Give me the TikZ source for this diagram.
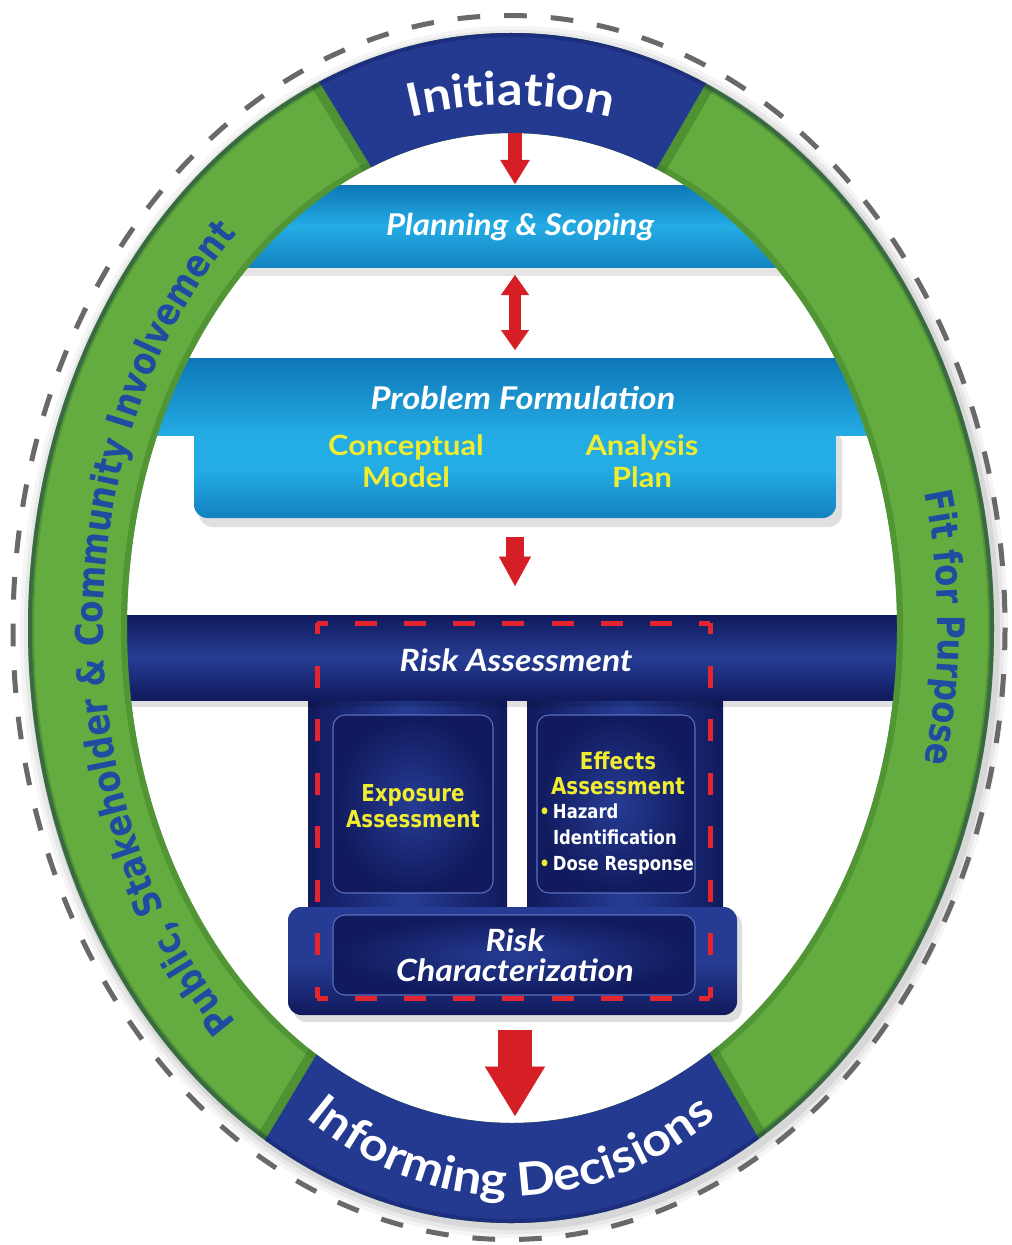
\documentclass[tikz,border=0pt]{standalone}
\usepackage{fontspec}
\setmainfont{Lato}
\newfontfamily\gill[FakeStretch=1.1]{Lato}
\newfontfamily\tah[FakeStretch=0.85]{DejaVu Sans}
\usetikzlibrary{arrows.meta,decorations.text,calc}
\definecolor{ringgreen}{RGB}{100,172,64}
\definecolor{ringgreendk}{RGB}{58,122,40}
\definecolor{navy}{RGB}{38,60,148}
\definecolor{navydk}{RGB}{16,26,92}
\definecolor{segblue}{RGB}{36,58,145}
\definecolor{lblue}{RGB}{36,172,228}
\definecolor{lbluedk}{RGB}{14,118,182}
\definecolor{arrowred}{RGB}{214,30,38}
\definecolor{txtyellow}{RGB}{240,236,48}
\definecolor{ringtext}{RGB}{30,76,160}
\definecolor{dashgrey}{RGB}{105,105,105}
\definecolor{dashred}{RGB}{228,36,46}
\definecolor{boxedge}{RGB}{90,110,190}
\tikzset{
  italtitle/.style={text=white, inner sep=0pt, align=center, font=\gill\bfseries\itshape\fontsize{23}{22.5}\selectfont},
  ylwtitle/.style={text=txtyellow, inner sep=0pt, align=center, font=\gill\bfseries\fontsize{21}{24}\selectfont},
  tahyellow/.style={text=txtyellow, inner sep=0pt, align=center, font=\tah\bfseries\fontsize{17.5}{19}\selectfont},
  tahwhite/.style={text=white, inner sep=0pt, align=left, font=\tah\bfseries\fontsize{14.5}{19.5}\selectfont},
  arrowsmall/.style={draw=arrowred, line width=11pt, -{Triangle[width=22pt 0 0, length=18pt 0 0, line width=0.2pt]}},
  arrowdouble/.style={draw=arrowred, line width=9.5pt, {Triangle[width=21pt 0 0,length=15pt 0 0,line width=0.2pt]}-{Triangle[width=21pt 0 0,length=15pt 0 0,line width=0.2pt]}},
  arrowmid/.style={draw=arrowred, line width=13.5pt, -{Triangle[width=24pt 0 0,length=22pt 0 0,line width=0.2pt]}},
  arrowbig/.style={draw=arrowred, line width=25pt, -{Triangle[width=45pt 0 0,length=37pt 0 0,line width=0.2pt]}},
  redside/.style={draw=dashred, line width=3.75pt, dash pattern=on 16.5pt off #1, dash phase=8.25pt},
  innerbox/.style={inner color=navy, outer color=navydk, draw=boxedge, line width=0.8pt, rounded corners=9pt},
}
\begin{document}
\begin{tikzpicture}[x=0.75pt,y=-0.75pt]
\useasboundingbox (0,0) rectangle (1011,1245);
\fill[white] (0,0) rectangle (1011,1245);
% soft halo of the ring
\foreach \r/\o in {11/0.04,7/0.05,3/0.07}{
  \fill[black,opacity=\o] (514,632) ellipse [x radius=483+\r, y radius=595+\r];
}
\fill[white] (512,628) ellipse [x radius=385, y radius=495];
% grey dashed ellipse
\draw[dashgrey, line width=3.75pt, dash pattern=on 17pt off 18pt] (509,627.5) ellipse [x radius=496, y radius=612];

% ---------- bands inside the ring ----------
\begin{scope}
  \clip (512,628) ellipse [x radius=392, y radius=502];
  % shadows
  \fill[black,opacity=0.10] (0,267) rectangle (1011,276);
  \fill[black,opacity=0.12,rounded corners=10pt] (199,430) rectangle (842,527);
  % Planning & Scoping band
  \shade[top color=lbluedk, bottom color=lbluedk!75!lblue, middle color=lblue] (0,185) rectangle (1011,267);
  % Problem formulation lower box and upper band
  \shade[top color=lblue, bottom color=lbluedk!80!lblue, middle color=lblue, rounded corners=10pt] (194,420) -- (194,518) -- (836,518) -- (836,420) -- cycle;
  \shade[top color=lbluedk, bottom color=lblue] (0,358) rectangle (1011,435);
  % risk assessment columns and band
  \shade[left color=navydk, right color=navydk, middle color=navy, rounded corners=9pt] (308,690) rectangle (507,925);
  \shade[left color=navydk, right color=navydk, middle color=navy, rounded corners=9pt] (527,690) rectangle (723,925);
  \fill[black,opacity=0.12] (0,700) rectangle (1011,707);
  \shade[top color=navydk, bottom color=navydk, middle color=navy] (0,615) rectangle (1011,700);
\end{scope}
% base of the risk block
\fill[black,opacity=0.13,rounded corners=10pt] (293,912) rectangle (742,1022);
\shade[top color=navy, bottom color=navydk, middle color=navy, rounded corners=10pt] (288,907) rectangle (737,1015);
% inner boxes
\path[innerbox] (333,715) rectangle (493,893);
\path[innerbox] (537,715) rectangle (695,893);
\path[innerbox] (333,915) rectangle (695,995);

% ---------- ring ----------
\fill[ringgreen, even odd rule] (511,628) ellipse [x radius=483, y radius=595] (512,628) ellipse [x radius=385, y radius=495];
\begin{scope}[even odd rule]
  \clip (511,628) ellipse [x radius=483, y radius=595] (512,628) ellipse [x radius=385, y radius=495];
  \draw[ringgreendk, opacity=0.45, line width=9pt] (511,628) ellipse [x radius=483, y radius=595];
  \draw[ringgreendk, opacity=0.45, line width=9pt] (512,628) ellipse [x radius=385, y radius=495];
  % shadows of the blue segments on the green
  \draw[ringgreendk, opacity=0.5, line width=14pt] (395,206) -- (270,1);
  \draw[ringgreendk, opacity=0.5, line width=14pt] (636,204) -- (756,-3);
  \draw[ringgreendk, opacity=0.5, line width=14pt] (339,1017) -- (195,1257);
  \draw[ringgreendk, opacity=0.5, line width=14pt] (689,1017) -- (830,1263);
  % blue segments
  \fill[segblue] (395,206) -- (270,1) -- (756,-3) -- (636,204) -- cycle;
  \fill[segblue] (339,1017) -- (195,1257) -- (830,1263) -- (689,1017) -- cycle;
  \draw[navydk, opacity=0.35, line width=6pt] (511,628) ellipse [x radius=483, y radius=595];
\end{scope}

% ---------- texts on the ring ----------
\path[decorate, decoration={text along path, text align=center, text color=white,
  text={|\gill\bfseries\fontsize{34.5}{40}\selectfont|Initiation}}]
  ($(511,628)+(240:470 and 523)$) arc[start angle=240, end angle=300, x radius=470, y radius=523];
\path[decorate, decoration={text along path, text align=center, text color=white,
  text={|\gill\bfseries\fontsize{34.5}{40}\selectfont|Informing Decisions}}]
  ($(511,628)+(160:405 and 568)$) arc[start angle=160, end angle=20, x radius=405, y radius=568];
\path[decorate, decoration={text along path, text align=center, text color=ringtext,
  text={|\tah\bfseries\fontsize{28.5}{30}\selectfont|Public, Stakeholder {\&} Community Involvement}}]
  ($(511,628)+(118:408 and 533)$) arc[start angle=118, end angle=242, x radius=408, y radius=533];
\path[decorate, decoration={text along path, text align=center, text color=ringtext,
  text={|\tah\bfseries\fontsize{28.5}{30}\selectfont|Fit for Purpose}}]
  ($(511,628)+(-40:427 and 533)$) arc[start angle=-40, end angle=40, x radius=427, y radius=533];

% ---------- red dashed frame ----------
\coordinate (fA) at (317,623);
\coordinate (fB) at (710,623);
\coordinate (fC) at (710,998);
\coordinate (fD) at (317,998);
\draw[redside=20.34pt] (fA) -- (fB);
\draw[redside=20.34pt] (fD) -- (fC);
\draw[redside=23.68pt] (fA) -- (fD);
\draw[redside=23.68pt] (fB) -- (fC);

% ---------- labels ----------
\node[italtitle, font=\gill\bfseries\itshape\fontsize{22.5}{24}\selectfont] (plan) at (520,227) {Planning \& Scoping};
\node[italtitle, font=\gill\bfseries\itshape\fontsize{23.5}{24}\selectfont] (prob) at (523,398) {Problem Formulation};
\node[ylwtitle] (concept) at (406,461) {Conceptual\\Model};
\node[ylwtitle] (analysis) at (642,461) {Analysis\\Plan};
\node[italtitle] (risk) at (516,660) {Risk Assessment};
\node[tahyellow] (expo) at (413,806) {Exposure\\Assessment};
\node[tahyellow] (effects) at (618,773) {Effects\\Assessment};
\node[tahwhite, anchor=west] (bullets) at (539,839) {\textcolor{txtyellow}{•}\,Hazard\\\phantom{•}\,Identification\\\textcolor{txtyellow}{•}\,Dose Response};
\node[italtitle] (rchar) at (515,955) {Risk\\Characterization};

% ---------- arrows ----------
\coordinate (initIn) at (515,133);
\coordinate (planTop) at (515,184);
\coordinate (planLow) at (515,275);
\coordinate (probTop) at (515,350);
\coordinate (probLow) at (515,537);
\coordinate (riskTop) at (515,586);
\coordinate (baseLow) at (515,1030);
\coordinate (informIn) at (515,1116);
\draw[arrowsmall] (initIn) -- (planTop);
\draw[arrowdouble] (planLow) -- (probTop);
\draw[arrowmid] (probLow) -- (riskTop);
\draw[arrowbig] (baseLow) -- (informIn);
\end{tikzpicture}
\end{document}
